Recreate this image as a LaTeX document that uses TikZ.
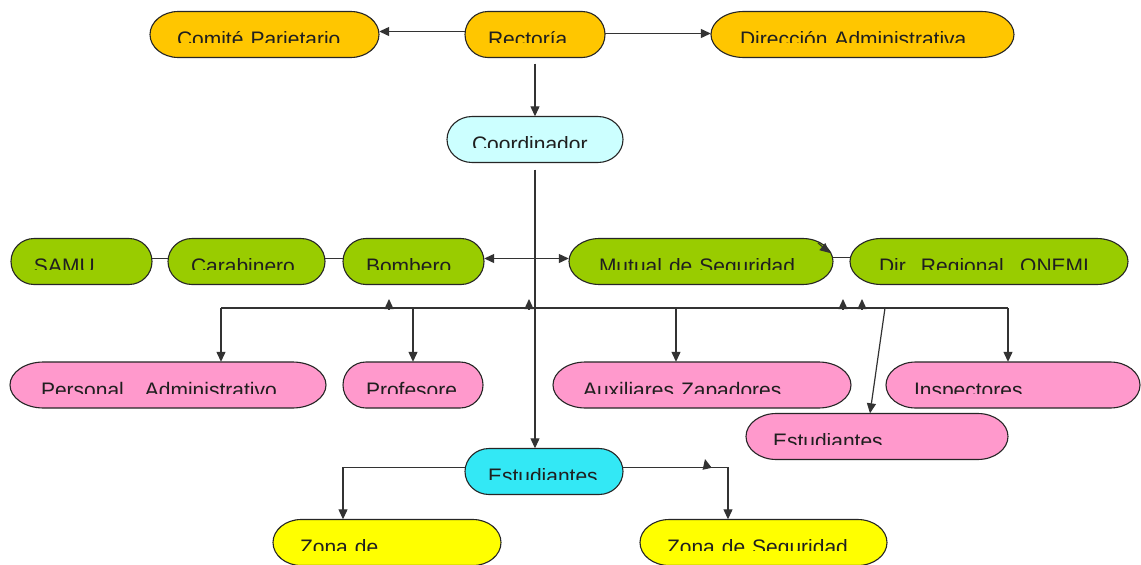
\documentclass[tikz,border=0pt]{standalone}
\usepackage{fontspec}
\setmainfont{Liberation Sans}
\usepackage{trimclip}
\usetikzlibrary{arrows.meta}
\definecolor{cgold}{HTML}{FFC600}
\definecolor{clcyan}{HTML}{CCFFFF}
\definecolor{cgreen}{HTML}{99CC00}
\definecolor{cpink}{HTML}{FF99CC}
\definecolor{ccyan}{HTML}{33E8F5}
\definecolor{cyell}{HTML}{FFFF00}
\newcommand\cuttxt[1]{\clipbox{0pt 4pt 0pt 0pt}{\raisebox{0pt}[\height][0pt]{#1}}}
\tikzset{
  boxline/.style={draw=black!85, line width=1.1pt},
  lbl/.style={rectangle, minimum height=46pt, inner ysep=0pt, align=left,
    text height=31pt, text depth=15pt,
    font=\fontsize{21pt}{25pt}\selectfont, text=black!88},
  conn/.style={draw=black!80, line width=1.2pt},
  arr/.style={conn, -{Triangle[length=10pt,width=9pt]}},
  biarr/.style={conn, {Triangle[length=10pt,width=9pt]}-{Triangle[length=10pt,width=9pt]}},
}
% #1 name, #2 fill, #3 cx, #4 cy, #5 width, #6 text padding, #7 text
\newcommand\pill[7]{%
  \pgfmathsetmacro\pillrx{23+0.06*(#5-140)}%
  \pgfmathsetmacro\pilltw{#5-2*#6}%
  \path[boxline, fill=#2] (#3-#5/2+\pillrx, #4-23) -- (#3+#5/2-\pillrx, #4-23)
    arc[start angle=-90, end angle=90, x radius=\pillrx, y radius=23]
    -- (#3-#5/2+\pillrx, #4+23)
    arc[start angle=90, end angle=270, x radius=\pillrx, y radius=23] -- cycle;
  \node[lbl, minimum width=#5pt, text width=\pilltw pt, inner xsep=#6pt] (#1) at (#3,#4) {\cuttxt{#7}};
}
\begin{document}
\begin{tikzpicture}[x=1pt,y=-1pt]
\useasboundingbox[fill=white] (0,0) rectangle (1141,565);
% top row
\pill{comite}{cgold}{264.5}{34.5}{229}{27}{Comité Parietario}
\pill{rect}{cgold}{535}{34.5}{140}{23}{Rectoría}
\pill{diradm}{cgold}{862.5}{34.5}{303}{29}{Dirección Administrativa}
\pill{coord}{clcyan}{535}{139.5}{176}{25}{Coordinador}
% green row
\pill{samu}{cgreen}{81.5}{261.5}{141}{23}{SAMU}
\pill{carab}{cgreen}{246.5}{261.5}{157}{23}{Carabinero}
\pill{bomb}{cgreen}{413.5}{261.5}{141}{23}{Bombero}
\pill{mutual}{cgreen}{701}{261.5}{264}{30}{Mutual de Seguridad}
\pill{onemi}{cgreen}{989}{261.5}{278}{29}{Dir. Regional. ONEMI}
% pink rows
\pill{pers}{cpink}{168}{385}{316}{31}{Personal\hspace{14pt} Administrativo}
\pill{prof}{cpink}{413}{385}{140}{23}{Profesore}
\pill{aux}{cpink}{702}{385}{298}{30}{Auxiliares Zapadores}
\pill{insp}{cpink}{1013}{385}{254}{28}{Inspectores}
\pill{estP}{cpink}{877}{436.5}{262}{27}{Estudiantes}
% cyan + yellow
\pill{estC}{ccyan}{544}{471.5}{158}{23}{Estudiantes}
\pill{zona1}{cyell}{387}{542.5}{228}{27}{Zona de}
\pill{zona2}{cyell}{763.5}{542.5}{247}{27}{Zona de Seguridad}
% top connectors
\draw[arr] ([yshift=3pt]rect.west) -- ([yshift=3pt]comite.east);
\draw[arr] ([yshift=1pt]rect.east) -- ([yshift=1pt]diradm.west);
\draw[arr, shorten <=6pt] (rect.south) -- (coord.north);
\draw[arr, shorten <=7pt] (coord.south) -- (coord.south |- estC.north);
% green connectors
\draw[conn] ([yshift=3pt]samu.east) -- ([yshift=3pt]carab.west);
\draw[conn] ([yshift=3pt]carab.east) -- ([yshift=3pt]bomb.west);
\draw[biarr] ([yshift=3pt]bomb.east) -- ([yshift=3pt]mutual.west);
\draw[conn] ([yshift=4pt]onemi.west) -- ([yshift=4pt]mutual.east);
\coordinate (m1) at (818,243);
\coordinate (m2) at (830,253);
\draw[arr] (m1) -- (m2);
% distribution bus
\coordinate (b1) at (221,308);
\coordinate (b2) at (413,308);
\coordinate (b3) at (676,308);
\coordinate (bd) at (885,308);
\coordinate (b4) at (1008,308);
\draw[conn] (b1) -- (b4);
\draw[arr] (b1) -- (b1 |- pers.north);
\draw[arr] (b2) -- (b2 |- prof.north);
\draw[arr] (b3) -- (b3 |- aux.north);
\draw[arr] (b4) -- (b4 |- insp.north);
\draw[arr] (bd) -- ([xshift=-7pt]estP.north);
% stray up arrowheads on the bus
\coordinate (u1) at (389,309);
\coordinate (u2) at (529,309);
\coordinate (u3) at (843,309);
\coordinate (u4) at (862,309);
\foreach \u in {u1,u2,u3,u4} \draw[arr] (\u) -- ++(0,-10);
% bottom
\draw[arr] ([yshift=4pt]estC.west) -| ([xshift=-44pt]zona1.north);
\draw[arr] ([yshift=4pt]estC.east) -| ([xshift=-35.5pt]zona2.north);
\coordinate (s1) at (707,468);
\draw[arr] (s1) -- ++(-2,-9);
\end{tikzpicture}
\end{document}
